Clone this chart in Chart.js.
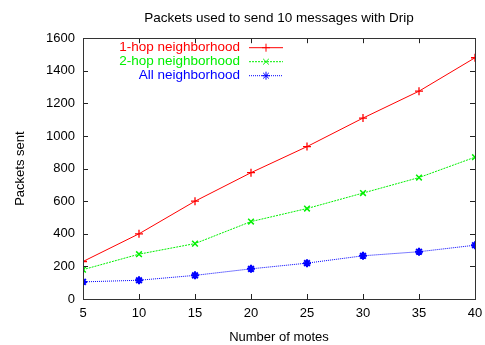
<!DOCTYPE html>
<html>
<head>
<meta charset="utf-8">
<script src="https://cdn.jsdelivr.net/npm/chart.js@4/dist/chart.umd.min.js"></script>
<style>
  html, body { margin: 0; padding: 0; background: #fff; }
  #wrap { width: 485px; height: 345px; }
</style>
</head>
<body>
<div id="wrap"><canvas id="c" width="485" height="345"></canvas></div>
<script>
// Number of motes in the network
const motes = [5, 10, 15, 20, 25, 30, 35, 40];
// Packets sent to disseminate 10 messages
const oneHop = [230, 400, 600, 775, 935, 1110, 1275, 1480];
const twoHop = [180, 275, 340, 475, 555, 650, 745, 870];
const allHood = [105, 115, 145, 185, 220, 265, 290, 330];
const seriesNames = ['1-hop neighborhood', '2-hop neighborhood', 'All neighborhood'];
const xTicks = [5, 10, 15, 20, 25, 30, 35, 40];
const yTicks = [0, 200, 400, 600, 800, 1000, 1200, 1400, 1600];

const FONT = '"Liberation Sans", Arial, Helvetica, sans-serif';

function pts(values) {
  return motes.map((m, i) => ({ x: m, y: values[i] }));
}

// Inward tick marks on all four sides, gnuplot style
const innerTicks = {
  id: 'innerTicks',
  afterDatasetsDraw(chart) {
    const { ctx, chartArea: a, scales } = chart;
    ctx.save();
    ctx.strokeStyle = '#222';
    ctx.lineWidth = 1;
    const len = 5;
    xTicks.forEach(v => {
      const x = Math.round(scales.x.getPixelForValue(v)) + 0.5;
      ctx.beginPath();
      ctx.moveTo(x, a.bottom); ctx.lineTo(x, a.bottom - len);
      ctx.moveTo(x, a.top); ctx.lineTo(x, a.top + len);
      ctx.stroke();
    });
    yTicks.forEach(v => {
      const y = Math.round(scales.y.getPixelForValue(v)) + 0.5;
      ctx.beginPath();
      ctx.moveTo(a.left, y); ctx.lineTo(a.left + len, y);
      ctx.moveTo(a.right, y); ctx.lineTo(a.right - len, y);
      ctx.stroke();
    });
    ctx.strokeStyle = '#333';
    ctx.strokeRect(Math.round(a.left) + 0.5, Math.round(a.top) + 0.5,
                   Math.round(a.right - a.left), Math.round(a.bottom - a.top));
    ctx.restore();
  }
};

// Key in the top-left corner: right-aligned labels followed by a line sample
const keyBox = {
  id: 'keyBox',
  afterDatasetsDraw(chart) {
    const { ctx, chartArea: a } = chart;
    ctx.save();
    ctx.font = '13.5px ' + FONT;
    ctx.textAlign = 'right';
    ctx.textBaseline = 'middle';
    const textRight = a.left + 157;
    const x0 = a.left + 166, x1 = a.left + 200;
    chart.data.datasets.forEach((ds, i) => {
      const y = a.top + 9 + i * 14;
      ctx.fillStyle = ds.borderColor;
      ctx.fillText(ds.label, textRight, y);
      ctx.strokeStyle = ds.borderColor;
      ctx.lineWidth = 1;
      ctx.setLineDash(ds.borderDash || []);
      ctx.beginPath();
      ctx.moveTo(x0, y + 0.5); ctx.lineTo(x1, y + 0.5);
      ctx.stroke();
      ctx.setLineDash([]);
      Chart.helpers.drawPoint(ctx, {
        pointStyle: ds.pointStyle, radius: ds.pointRadius, rotation: 0,
        borderWidth: ds.pointBorderWidth
      }, (x0 + x1) / 2, y + 0.5);
    });
    ctx.restore();
  }
};

new Chart(document.getElementById('c'), {
  type: 'line',
  data: {
    datasets: [
      {
        label: seriesNames[0], data: pts(oneHop),
        borderColor: '#ff0000', backgroundColor: '#ff0000',
        borderWidth: 1, pointStyle: 'cross', pointRadius: 4, pointBorderWidth: 1.3
      },
      {
        label: seriesNames[1], data: pts(twoHop),
        borderColor: '#00f000', backgroundColor: '#00f000',
        borderWidth: 1, borderDash: [2, 1], pointStyle: 'crossRot', pointRadius: 4, pointBorderWidth: 1.5
      },
      {
        label: seriesNames[2], data: pts(allHood),
        borderColor: '#0000ff', backgroundColor: '#0000ff',
        borderWidth: 1, borderDash: [1, 1], pointStyle: 'star', pointRadius: 4, pointBorderWidth: 2
      }
    ]
  },
  options: {
    responsive: false,
    animation: false,
    layout: { padding: { top: 0, right: 10, left: 0, bottom: 0 } },
    plugins: {
      legend: { display: false },
      tooltip: { enabled: false },
      title: {
        display: true,
        fullSize: false,
        text: 'Packets used to send 10 messages with Drip',
        color: '#000',
        font: { family: FONT, size: 13.5, weight: 'normal' },
        padding: { top: 10, bottom: 12 }
      }
    },
    scales: {
      x: {
        type: 'linear', min: 5, max: 40,
        afterBuildTicks: s => { s.ticks = xTicks.map(v => ({ value: v })); },
        grid: { display: false, drawTicks: false },
        border: { display: false },
        ticks: { color: '#000', font: { family: FONT, size: 13 }, padding: 7, maxRotation: 0,
                 callback: v => String(v) },
        title: { display: true, text: 'Number of motes', color: '#000',
                 font: { family: FONT, size: 13 }, padding: { top: 4, bottom: 0 } },
        afterFit: s => { s.height = 46; s.paddingLeft = 0; s.paddingRight = 0; }
      },
      y: {
        type: 'linear', min: 0, max: 1600,
        afterBuildTicks: s => { s.ticks = yTicks.map(v => ({ value: v })); },
        grid: { display: false, drawTicks: false },
        border: { display: false },
        ticks: { color: '#000', font: { family: FONT, size: 13 }, padding: 8,
                 callback: v => String(v) },
        title: { display: true, text: 'Packets sent', color: '#000',
                 font: { family: FONT, size: 13 }, padding: { top: 13, bottom: 8 } },
        afterFit: s => { s.width = 83; }
      }
    }
  },
  plugins: [innerTicks, keyBox]
});
</script>
</body>
</html>
